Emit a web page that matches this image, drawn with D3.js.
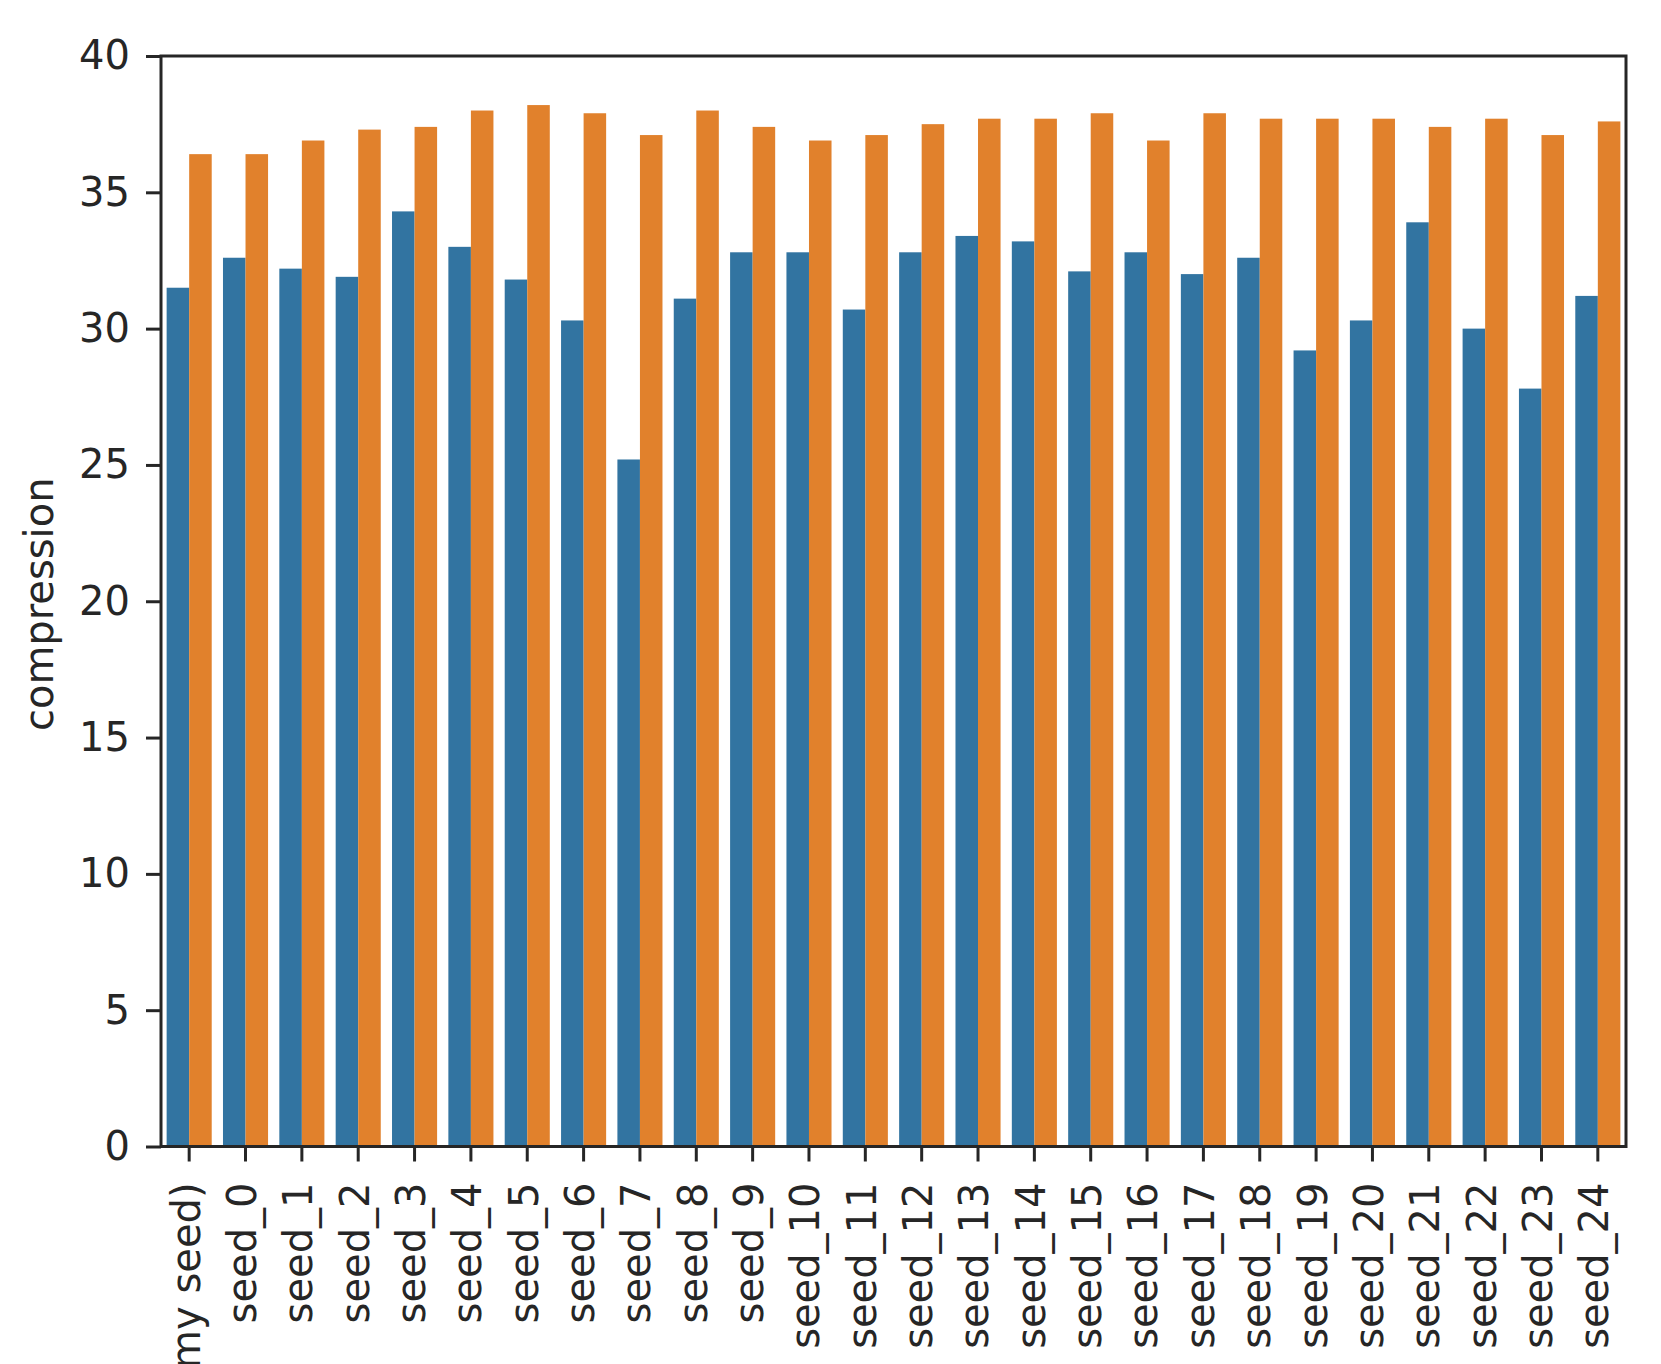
<!DOCTYPE html>
<html>
<head>
<meta charset="utf-8">
<script src="https://cdn.jsdelivr.net/npm/d3@7"></script>
<style>
  body { margin: 0; background: #fff; }
  svg { display: block; }
</style>
</head>
<body>
<div id="chart"></div>
<script>
// categories on the x axis
const seeds = ["(dummy seed)"].concat(d3.range(25).map(i => `seed_${i}`));
// blue series (first hue level)
const compressionA = [31.5, 32.6, 32.2, 31.9, 34.3, 33.0, 31.8, 30.3, 25.2, 31.1, 32.8, 32.8, 30.7,
                      32.8, 33.4, 33.2, 32.1, 32.8, 32.0, 32.6, 29.2, 30.3, 33.9, 30.0, 27.8, 31.2];
// orange series (second hue level)
const compressionB = [36.4, 36.4, 36.9, 37.3, 37.4, 38.0, 38.2, 37.9, 37.1, 38.0, 37.4, 36.9, 37.1,
                      37.5, 37.7, 37.7, 37.9, 36.9, 37.9, 37.7, 37.7, 37.7, 37.4, 37.7, 37.1, 37.6];
const yTicks = [0, 5, 10, 15, 20, 25, 30, 35, 40];
const seriesKeys = ["a", "b"];
const colors = ["#3274a1", "#e1812c"];

const width = 1661, height = 1364;
const marginTop = 56, marginLeft = 161, marginRight = 35, marginBottom = 217.5;
const fontSize = 40;
const font = "DejaVu Sans";
const ink = "#262626";

const data = seeds.map((s, i) => ({seed: s, a: compressionA[i], b: compressionB[i]}));

const x = d3.scaleBand()
    .domain(seeds)
    .range([marginLeft, width - marginRight])
    .paddingInner(0.2)
    .paddingOuter(0.1);
const xInner = d3.scaleBand().domain(seriesKeys).range([0, x.bandwidth()]);
const y = d3.scaleLinear().domain([0, 40]).range([height - marginBottom, marginTop]);

const svg = d3.select("#chart").append("svg")
    .attr("width", width)
    .attr("height", height)
    .style("font-family", font);

// bars
svg.append("g")
  .selectAll("g")
  .data(data)
  .join("g")
    .attr("transform", d => `translate(${x(d.seed)},0)`)
  .selectAll("rect")
  .data(d => seriesKeys.map((k, j) => ({key: k, value: d[k], j})))
  .join("rect")
    .attr("x", d => xInner(d.key))
    .attr("width", xInner.bandwidth())
    .attr("y", d => y(d.value))
    .attr("height", d => y(0) - y(d.value))
    .attr("fill", d => colors[d.j]);

// y axis
svg.append("g")
    .attr("transform", `translate(${marginLeft},0)`)
    .call(d3.axisLeft(y).tickValues(yTicks).tickSize(15).tickPadding(16))
    .attr("font-family", null)
    .call(g => g.select(".domain").remove())
    .call(g => g.selectAll(".tick line").attr("stroke", ink).attr("stroke-width", 3))
    .call(g => g.selectAll(".tick text")
        .style("font-family", font)
        .attr("font-size", fontSize)
        .attr("fill", ink));

// x axis
svg.append("g")
    .attr("transform", `translate(0,${height - marginBottom})`)
    .call(d3.axisBottom(x).tickSize(15))
    .attr("font-family", null)
    .call(g => g.select(".domain").remove())
    .call(g => g.selectAll(".tick line").attr("stroke", ink).attr("stroke-width", 3))
    .call(g => g.selectAll(".tick text")
        .style("font-family", font)
        .attr("font-size", fontSize)
        .attr("fill", ink)
        .attr("text-anchor", "end")
        .attr("dy", "0.26em")
        .attr("transform", "translate(0,36) rotate(-90)")
        .attr("y", 0)
        .attr("x", 0));

// frame (all four spines)
svg.append("rect")
    .attr("x", marginLeft)
    .attr("y", marginTop)
    .attr("width", width - marginLeft - marginRight)
    .attr("height", height - marginTop - marginBottom)
    .attr("fill", "none")
    .attr("stroke", ink)
    .attr("stroke-width", 3);

// y label
svg.append("text")
    .attr("transform", `translate(53,${(marginTop + height - marginBottom) / 2 + 3}) rotate(-90)`)
    .attr("text-anchor", "middle")
    .style("font-family", font)
    .attr("font-size", fontSize)
    .attr("fill", ink)
    .text("compression");
</script>
</body>
</html>
